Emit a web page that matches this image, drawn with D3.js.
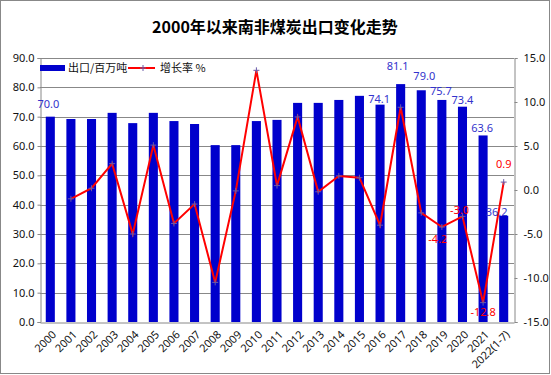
<!DOCTYPE html>
<html>
<head>
<meta charset="utf-8">
<script src="https://cdn.jsdelivr.net/npm/d3@7"></script>
<style>
  body { margin: 0; background: #fff; }
  text { font-family: "Noto Sans", sans-serif; }
  .cjk { font-family: "Noto Sans CJK SC", sans-serif; }
</style>
</head>
<body>
<div id="chart"></div>
<script>
// data
const years = ["2000", "2001", "2002", "2003", "2004", "2005", "2006", "2007", "2008", "2009",
  "2010", "2011", "2012", "2013", "2014", "2015", "2016", "2017", "2018", "2019",
  "2020", "2021", "2022(1-7)"];
const exports = [70.0, 69.2, 69.2, 71.3, 67.8, 71.3, 68.5, 67.5, 60.3, 60.3,
  68.5, 68.9, 74.7, 74.7, 75.7, 77.1, 74.1, 81.1, 79.0, 75.7,
  73.4, 63.6, 36.2];
const growth = [null, -1.0, 0.2, 3.0, -5.0, 5.1, -3.8, -1.6, -10.5, -0.1,
  13.6, 0.5, 8.3, -0.2, 1.6, 1.4, -4.0, 9.4, -2.6, -4.2,
  -3.0, -12.8, 0.9];
const leftTicks = [0, 10, 20, 30, 40, 50, 60, 70, 80, 90];
const rightTicks = [-15, -10, -5, 0, 5, 10, 15];

// which points carry a value label (index in years)
const barLabelIdx = [0, 16, 17, 18, 19, 20, 21, 22];
const growthLabelIdx = [19, 20, 21, 22];
// label nudges [dx, dy] relative to the mark, as seen in the picture
const barNudge = { 0: [-2, -9], 16: [-1, -2], 17: [-3, -14], 18: [3, -10], 19: [-1, -5], 20: [0, -3], 21: [-1, -3], 22: [-7, 0] };
const growthNudge = { 19: [-4, 16], 20: [-3, -2], 21: [0, 13], 22: [0, -14] };

// plain hyphen minus like the original, not d3's unicode minus
const fmt = (v) => v.toFixed(1);

const W = 551, H = 375;
const plot = { left: 40, right: 514, top: 58, bottom: 322 };

const svg = d3.select("#chart").append("svg")
  .attr("width", W).attr("height", H);

svg.append("rect")
  .attr("x", 0.5).attr("y", 0.5)
  .attr("width", W - 2).attr("height", H - 2)
  .attr("fill", "#fff").attr("stroke", "#888");

svg.append("text")
  .attr("class", "cjk")
  .attr("x", 275).attr("y", 33)
  .attr("text-anchor", "middle")
  .attr("font-size", "16px").attr("font-weight", "bold")
  .text("2000年以来南非煤炭出口变化走势");

const x = d3.scaleBand().domain(years).range([plot.left, plot.right]).paddingInner(0.56).paddingOuter(0.28);
const yL = d3.scaleLinear().domain([0, 90]).range([plot.bottom, plot.top]);
const yR = d3.scaleLinear().domain([-15, 15]).range([plot.bottom, plot.top]);
const xc = (i) => x(years[i]) + x.bandwidth() / 2;

// gridlines
svg.append("g").selectAll("line").data(leftTicks.slice(1)).enter().append("line")
  .attr("x1", plot.left).attr("x2", plot.right)
  .attr("y1", (d) => Math.round(yL(d)) + 0.5).attr("y2", (d) => Math.round(yL(d)) + 0.5)
  .attr("stroke", "#888").attr("stroke-width", 1);

// bars
svg.append("g").selectAll("rect").data(exports).enter().append("rect")
  .attr("x", (d, i) => x(years[i]))
  .attr("y", (d) => yL(d))
  .attr("width", x.bandwidth())
  .attr("height", (d) => plot.bottom - yL(d))
  .attr("fill", "#0000cc");

// axes
const leftAxis = svg.append("g")
  .attr("transform", "translate(" + (plot.left + 0.5) + ",0)")
  .call(d3.axisLeft(yL).tickValues(leftTicks).tickFormat(fmt).tickSize(3).tickPadding(3));
const rightAxis = svg.append("g")
  .attr("transform", "translate(" + (plot.right + 0.5) + ",0)")
  .call(d3.axisRight(yR).tickValues(rightTicks).tickFormat(fmt).tickSize(3).tickPadding(6));
const bottomAxis = svg.append("g")
  .attr("transform", "translate(0," + (plot.bottom + 0.5) + ")")
  .call(d3.axisBottom(x).tickSize(0).tickPadding(0));

[leftAxis, rightAxis, bottomAxis].forEach((g) => {
  g.select(".domain").attr("stroke", "#888");
  g.selectAll(".tick line").attr("stroke", "#888");
  g.selectAll("text").attr("font-size", "11px").attr("fill", "#111")
    .style("font-family", "'Noto Sans', sans-serif");
});
bottomAxis.selectAll("text")
  .attr("text-anchor", "end")
  .attr("dy", "0.35em")
  .attr("transform", "translate(4,10) rotate(-45)");

// growth line
const line = d3.line()
  .defined((d) => d !== null)
  .x((d, i) => xc(i))
  .y((d) => yR(d));
svg.append("path")
  .datum(growth)
  .attr("d", line)
  .attr("fill", "none")
  .attr("stroke", "#ff0000")
  .attr("stroke-width", 2);

svg.append("g").selectAll("path")
  .data(growth.map((d, i) => ({ v: d, i: i })).filter((d) => d.v !== null))
  .enter().append("path")
  .attr("d", (d) => {
    const cx = xc(d.i), cy = yR(d.v);
    return "M" + (cx - 3) + "," + cy + "H" + (cx + 3) + "M" + cx + "," + (cy - 3) + "V" + (cy + 3);
  })
  .attr("stroke", "#6a5aa8").attr("stroke-width", 1);

// value labels
svg.append("g").selectAll("text").data(barLabelIdx).enter().append("text")
  .attr("x", (i) => xc(i) + barNudge[i][0])
  .attr("y", (i) => yL(exports[i]) + barNudge[i][1])
  .attr("text-anchor", "middle")
  .attr("font-size", "11px")
  .attr("fill", "#3333cc")
  .text((i) => fmt(exports[i]));

svg.append("g").selectAll("text").data(growthLabelIdx).enter().append("text")
  .attr("x", (i) => xc(i) + growthNudge[i][0])
  .attr("y", (i) => yR(growth[i]) + growthNudge[i][1])
  .attr("text-anchor", "middle")
  .attr("font-size", "11px")
  .attr("fill", "#ff0000")
  .text((i) => fmt(growth[i]));

// legend
const legend = svg.append("g").attr("transform", "translate(40,68)");
legend.append("rect").attr("x", 0).attr("y", -3).attr("width", 25).attr("height", 6).attr("fill", "#0000cc");
legend.append("text").attr("class", "cjk").attr("x", 28).attr("y", 4)
  .attr("font-size", "11px").attr("fill", "#111").text("出口/百万吨");
legend.append("line").attr("x1", 88).attr("x2", 115).attr("y1", 0).attr("y2", 0)
  .attr("stroke", "#ff0000").attr("stroke-width", 2);
legend.append("path").attr("d", "M100,0H106M103,-3V3").attr("stroke", "#6a5aa8").attr("stroke-width", 1);
legend.append("text").attr("class", "cjk").attr("x", 120).attr("y", 4)
  .attr("font-size", "11px").attr("fill", "#111").text("增长率 %");
</script>
</body>
</html>
